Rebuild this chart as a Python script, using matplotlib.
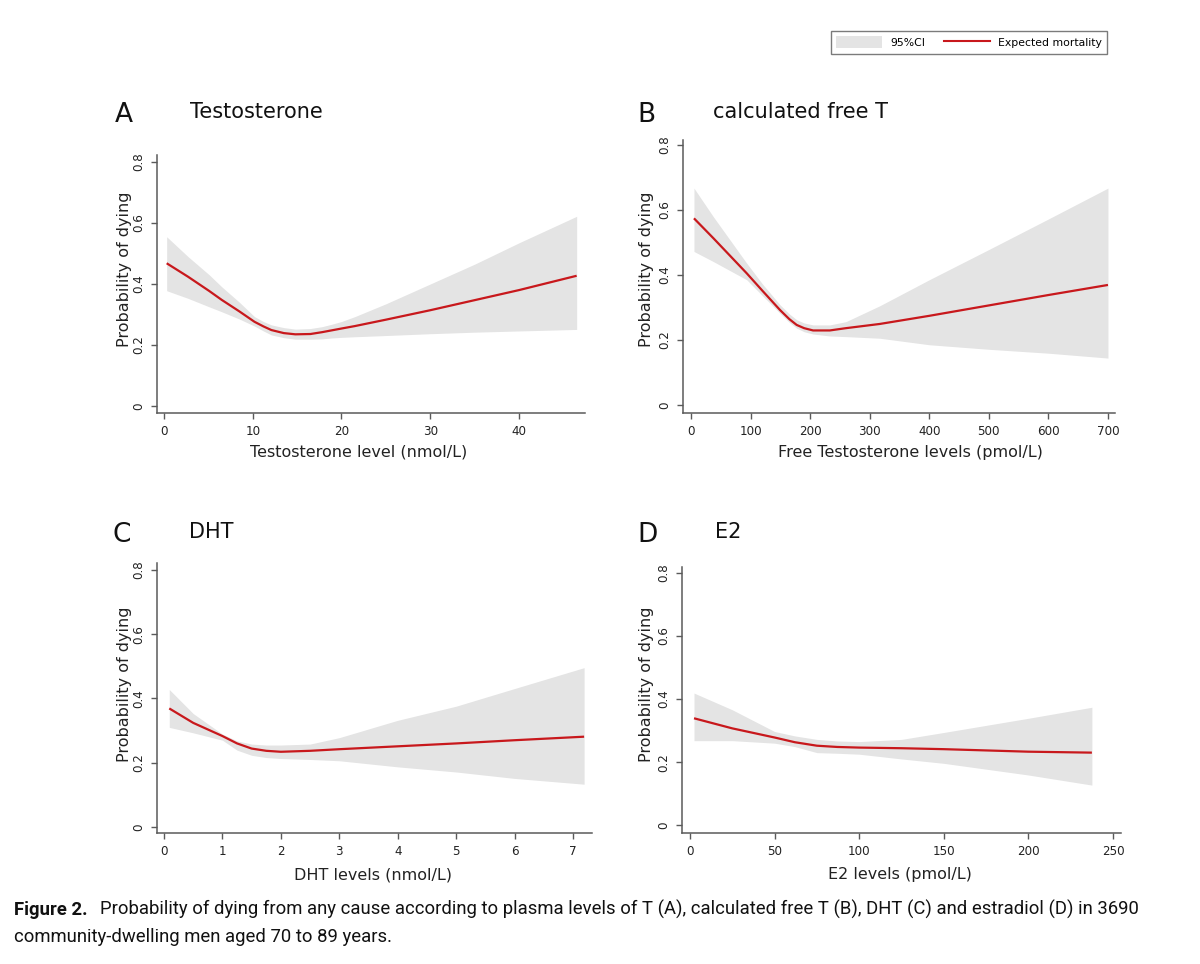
import matplotlib
matplotlib.use("Agg")
import matplotlib.pyplot as plt
from matplotlib.patches import Patch
from matplotlib.lines import Line2D

# ---------------- data ----------------
a_x = [0.3, 2.7, 5.1, 6.5, 8.5, 10.2, 11.2, 12.1, 13.5, 14.8, 16.5, 17.8, 18.9, 20, 21.5, 25, 30, 35, 40, 46.5]
a_y = [0.468, 0.424, 0.377, 0.348, 0.310, 0.276, 0.261, 0.249, 0.239, 0.235, 0.236, 0.242, 0.248, 0.254, 0.262, 0.283, 0.314, 0.347, 0.380, 0.427]
a_hi = [0.555, 0.490, 0.430, 0.391, 0.340, 0.293, 0.277, 0.266, 0.257, 0.252, 0.254, 0.260, 0.268, 0.277, 0.293, 0.335, 0.400, 0.465, 0.535, 0.622]
a_lo = [0.378, 0.353, 0.325, 0.309, 0.285, 0.262, 0.246, 0.233, 0.224, 0.219, 0.219, 0.220, 0.223, 0.225, 0.227, 0.231, 0.237, 0.242, 0.246, 0.251]

b_x = [5, 37.5, 93.5, 120, 149.4, 165, 177.4, 190, 205, 233, 260, 317, 400, 500, 600, 700]
b_y = [0.574, 0.513, 0.405, 0.351, 0.292, 0.264, 0.246, 0.236, 0.229, 0.229, 0.236, 0.249, 0.274, 0.306, 0.338, 0.369]
b_hi = [0.667, 0.579, 0.436, 0.372, 0.308, 0.280, 0.262, 0.252, 0.246, 0.246, 0.256, 0.305, 0.385, 0.478, 0.572, 0.667]
b_lo = [0.472, 0.441, 0.385, 0.336, 0.282, 0.254, 0.236, 0.225, 0.218, 0.212, 0.210, 0.205, 0.185, 0.171, 0.159, 0.144]

c_x = [0.09, 0.5, 1.0, 1.25, 1.5, 1.75, 2.0, 2.5, 3, 4, 5, 6, 7.19]
c_y = [0.369, 0.324, 0.283, 0.260, 0.244, 0.237, 0.234, 0.237, 0.242, 0.251, 0.260, 0.270, 0.281]
c_hi = [0.428, 0.353, 0.289, 0.268, 0.258, 0.255, 0.255, 0.258, 0.278, 0.332, 0.376, 0.431, 0.496]
c_lo = [0.310, 0.293, 0.270, 0.239, 0.223, 0.216, 0.213, 0.210, 0.206, 0.187, 0.171, 0.151, 0.133]

d_x = [2.4, 25, 50, 62, 75, 87, 100, 125, 150, 200, 237.5]
d_y = [0.339, 0.307, 0.278, 0.263, 0.252, 0.248, 0.246, 0.244, 0.241, 0.233, 0.230]
d_hi = [0.419, 0.366, 0.297, 0.283, 0.272, 0.267, 0.265, 0.272, 0.294, 0.339, 0.374]
d_lo = [0.268, 0.268, 0.260, 0.249, 0.230, 0.228, 0.225, 0.210, 0.196, 0.159, 0.127]

y_ticks = [0, 0.2, 0.4, 0.6, 0.8]
y_ticklabels = ["0", "0.2", "0.4", "0.6", "0.8"]
a_xticks = [0, 10, 20, 30, 40]
b_xticks = [0, 100, 200, 300, 400, 500, 600, 700]
c_xticks = [0, 1, 2, 3, 4, 5, 6, 7]
d_xticks = [0, 50, 100, 150, 200, 250]

letters = ["A", "B", "C", "D"]
titles = ["Testosterone", "calculated free T", "DHT", "E2"]
xlabels = ["Testosterone level (nmol/L)", "Free Testosterone levels (pmol/L)",
           "DHT levels (nmol/L)", "E2 levels (pmol/L)"]
ylabel = "Probability of dying"
legend_labels = ["95%CI", "Expected mortality"]
caption_bold = "Figure 2."
caption_l1 = ("Probability of dying from any cause according to plasma levels of T (A), "
              "calculated free T (B), DHT (C) and estradiol (D) in 3690")
caption_l2 = "community-dwelling men aged 70 to 89 years."

# ---------------- style ----------------
W, H = 1200, 964
FILL = "#e4e4e4"
RED = "#c8181c"
SPINE = "#5a5a5a"
TXT = "#222222"
plt.rcParams["font.family"] = ["DejaVu Sans"]
cap_fam = ["Roboto", "DejaVu Sans"]

fig = plt.figure(figsize=(W / 100, H / 100), dpi=100)
fig.patch.set_facecolor("white")

def fx(px):
    return px / W

def fy(py):
    return 1 - py / H

panels = [
    dict(box=(157, 585, 155, 413), xlim=(-0.79, 47.44), ylim=(-0.023, 0.823),
         x=a_x, y=a_y, hi=a_hi, lo=a_lo, xt=a_xticks,
         letter=(115, 121.7), title=(190, 117.7), yl=(124, 269), xl=(359, 452)),
    dict(box=(683, 1115, 140, 413), xlim=(-13.4, 711.8), ylim=(-0.025, 0.815),
         x=b_x, y=b_y, hi=b_hi, lo=b_lo, xt=b_xticks,
         letter=(637, 121.7), title=(713, 117.7), yl=(646, 269), xl=(910, 452)),
    dict(box=(157, 592, 563, 833), xlim=(-0.12, 7.325), ylim=(-0.019, 0.822),
         x=c_x, y=c_y, hi=c_hi, lo=c_lo, xt=c_xticks,
         letter=(113, 542), title=(189, 538), yl=(124, 684), xl=(373, 875)),
    dict(box=(682, 1121, 567, 833), xlim=(-4.7, 254.7), ylim=(-0.025, 0.819),
         x=d_x, y=d_y, hi=d_hi, lo=d_lo, xt=d_xticks,
         letter=(637, 542), title=(715, 538), yl=(647, 684), xl=(900, 875)),
]

for i, p in enumerate(panels):
    l, r, t, b = p["box"]
    ax = fig.add_axes([fx(l), fy(b), (r - l) / W, (b - t) / H])
    ax.set_facecolor("white")
    ax.fill_between(p["x"], p["lo"], p["hi"], color=FILL, linewidth=0, zorder=1)
    ax.plot(p["x"], p["y"], color=RED, linewidth=1.6, zorder=2,
            solid_joinstyle="round", solid_capstyle="butt")
    ax.set_xlim(*p["xlim"])
    ax.set_ylim(*p["ylim"])
    ax.set_xticks(p["xt"])
    ax.set_xticklabels([str(v) for v in p["xt"]])
    ax.set_yticks(y_ticks)
    ax.set_yticklabels(y_ticklabels, rotation=90, va="center")
    for s in ["top", "right"]:
        ax.spines[s].set_visible(False)
    for s in ["left", "bottom"]:
        ax.spines[s].set_color(SPINE)
        ax.spines[s].set_linewidth(1.1)
    ax.tick_params(axis="both", direction="out", length=4.5, width=1.0, color=SPINE,
                   labelsize=8.6, labelcolor=TXT, pad=4)

    fig.text(fx(p["letter"][0]), fy(p["letter"][1]), letters[i], fontsize=19,
             color="#111111", ha="left", va="baseline")
    fig.text(fx(p["title"][0]), fy(p["title"][1]), titles[i], fontsize=15,
             color="#111111", ha="left", va="baseline")
    fig.text(fx(p["yl"][0]), fy(p["yl"][1]), ylabel, fontsize=11.5, color=TXT,
             rotation=90, ha="center", va="center")
    fig.text(fx(p["xl"][0]), fy(p["xl"][1]), xlabels[i], fontsize=11.5, color=TXT,
             ha="center", va="center")

# legend
handles = [Patch(facecolor=FILL, edgecolor="none"),
           Line2D([0], [0], color=RED, linewidth=1.5)]
leg = fig.legend(handles, legend_labels, loc="upper right",
                 bbox_to_anchor=(fx(1107), fy(31)), ncol=2, frameon=True,
                 fancybox=False, shadow=False, fontsize=7.8, handlelength=4.2,
                 handleheight=1.3, handletextpad=0.75, columnspacing=1.75,
                 borderpad=0.5, borderaxespad=0)
leg.get_frame().set_edgecolor(SPINE)
leg.get_frame().set_linewidth(1.0)

# caption (first line fitted to its width in the reference)
GAP = 13
renderer = fig.canvas.get_renderer()
base = 13
tb = fig.text(fx(14), fy(915), caption_bold, fontsize=base, fontweight="bold",
              family=cap_fam, color="#111111", ha="left", va="baseline")
bb = tb.get_window_extent(renderer)
x_reg = bb.x1 + GAP
t1 = fig.text(x_reg / W, fy(915), caption_l1, fontsize=base, family=cap_fam,
              color="#111111", ha="left", va="baseline")
bb1 = t1.get_window_extent(renderer)
fs = base * (1132 - x_reg) / bb1.width
t1.set_fontsize(fs)
tb.set_fontsize(fs)
bb = tb.get_window_extent(renderer)
t1.set_x((bb.x1 + GAP) / W)
fig.text(fx(14), fy(942), caption_l2, fontsize=fs, family=cap_fam,
         color="#111111", ha="left", va="baseline")

fig.savefig("out.png", dpi=100, facecolor="white")
